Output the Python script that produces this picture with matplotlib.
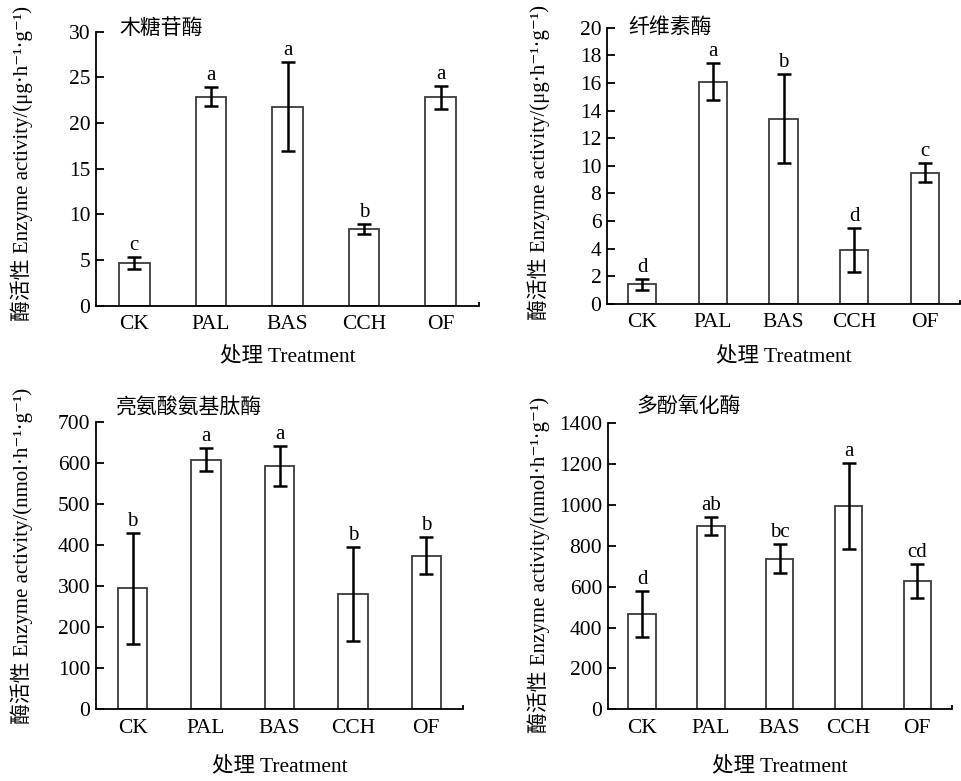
import matplotlib
matplotlib.use('Agg')
import matplotlib.pyplot as plt
import numpy as np

plt.rcParams['font.family'] = ['Liberation Serif', 'DejaVu Serif', 'Noto Sans CJK SC']
plt.rcParams['font.size'] = 15

#------------------------------------------------------------------
# data
cats = ['CK', 'PAL', 'BAS', 'CCH', 'OF']

xyl_mean = [4.7, 22.9, 21.8, 8.4, 22.8]
xyl_err  = [0.65, 1.0, 4.9, 0.6, 1.3]
xyl_sig  = ['c', 'a', 'a', 'b', 'a']

cel_mean = [1.4, 16.1, 13.4, 3.9, 9.5]
cel_err  = [0.42, 1.33, 3.23, 1.6, 0.68]
cel_sig  = ['d', 'a', 'b', 'd', 'c']

lap_mean = [295, 609, 593, 281, 375]
lap_err  = [136, 28, 49, 115, 45]
lap_sig  = ['b', 'a', 'a', 'b', 'b']

ppo_mean = [466, 899, 737, 994, 628]
ppo_err  = [113, 44, 72, 211, 82]
ppo_sig  = ['d', 'ab', 'bc', 'a', 'cd']

unit_ug = '酶活性 Enzyme activity/(μg·h⁻¹·g⁻¹)'
unit_nmol = '酶活性 Enzyme activity/(nmol·h⁻¹·g⁻¹)'

#------------------------------------------------------------------
W, H = 961, 781
fig = plt.figure(figsize=(W / 100, H / 100), dpi=100)

def px_axes(left, right, top, bottom):
    return fig.add_axes([left / W, 1 - bottom / H, (right - left) / W, (bottom - top) / H])

panels = [
    # axes box (px), title, mean, err, sig, ymax, ystep, ylabel, title offset(pt), ylabel x, ylabel y, xlabel y
    (px_axes(96, 479, 31.7, 305.7), '木糖苷酶', xyl_mean, xyl_err, xyl_sig, 30, 5, unit_ug,
     (17, 2), -0.193, 0.519, -0.186),
    (px_axes(607, 960, 27.7, 303.7), '纤维素酶', cel_mean, cel_err, cel_sig, 20, 2, unit_ug,
     (15, 0), -0.193, 0.512, -0.192),
    (px_axes(96, 463, 422.3, 709.3), '亮氨酸氨基肽酶', lap_mean, lap_err, lap_sig, 700, 100, unit_nmol,
     (14, 10), -0.2016, 0.534, -0.199),
    (px_axes(607.7, 951.7, 423.3, 709.3), '多酚氧化酶', ppo_mean, ppo_err, ppo_sig, 1400, 200, unit_nmol,
     (21, 12), -0.20, 0.505, -0.199),
]

x = np.arange(len(cats))

for ax, title, mean, err, sig, ymax, ystep, ylab, toff, ylx, yly, xly in panels:
    ax.bar(x, mean, width=0.4, color='white', edgecolor='#3a3a3a', linewidth=1.3, zorder=2)
    ax.errorbar(x, mean, yerr=err, fmt='none', ecolor='black', elinewidth=1.8,
                capsize=5, capthick=1.8, zorder=3)
    for xi, m, e, s in zip(x, mean, err, sig):
        ax.annotate(s, xy=(xi, m + e), xytext=(0, 5), textcoords='offset points',
                    ha='center', va='baseline', fontsize=15)

    ax.set_xlim(-0.5, 4.5)
    ax.set_ylim(0, ymax)
    ax.set_yticks(np.arange(0, ymax + ystep / 2, ystep))
    ax.set_xticks(x)
    ax.set_xticklabels(cats)
    ax.set_xticks([4.5], minor=True)

    ax.spines['top'].set_visible(False)
    ax.spines['right'].set_visible(False)
    ax.spines['left'].set_linewidth(1.3)
    ax.spines['bottom'].set_linewidth(1.3)
    ax.tick_params(axis='y', direction='in', length=6, width=1.3, pad=4, labelsize=15.5)
    ax.tick_params(axis='x', which='major', length=0, pad=7, labelsize=15.5)
    ax.tick_params(axis='x', which='minor', direction='in', length=3, width=1.3)

    ax.set_ylabel(ylab, fontsize=15)
    ax.yaxis.label.set_va('center')
    ax.yaxis.set_label_coords(ylx, yly)
    ax.set_xlabel('处理 Treatment', fontsize=15.5)
    ax.xaxis.label.set_va('center')
    ax.xaxis.set_label_coords(0.5, xly)

    ax.annotate(title, xy=(0, 1), xycoords='axes fraction', xytext=toff,
                textcoords='offset points', ha='left', va='center', fontsize=15)

fig.savefig('out.png', dpi=100)
